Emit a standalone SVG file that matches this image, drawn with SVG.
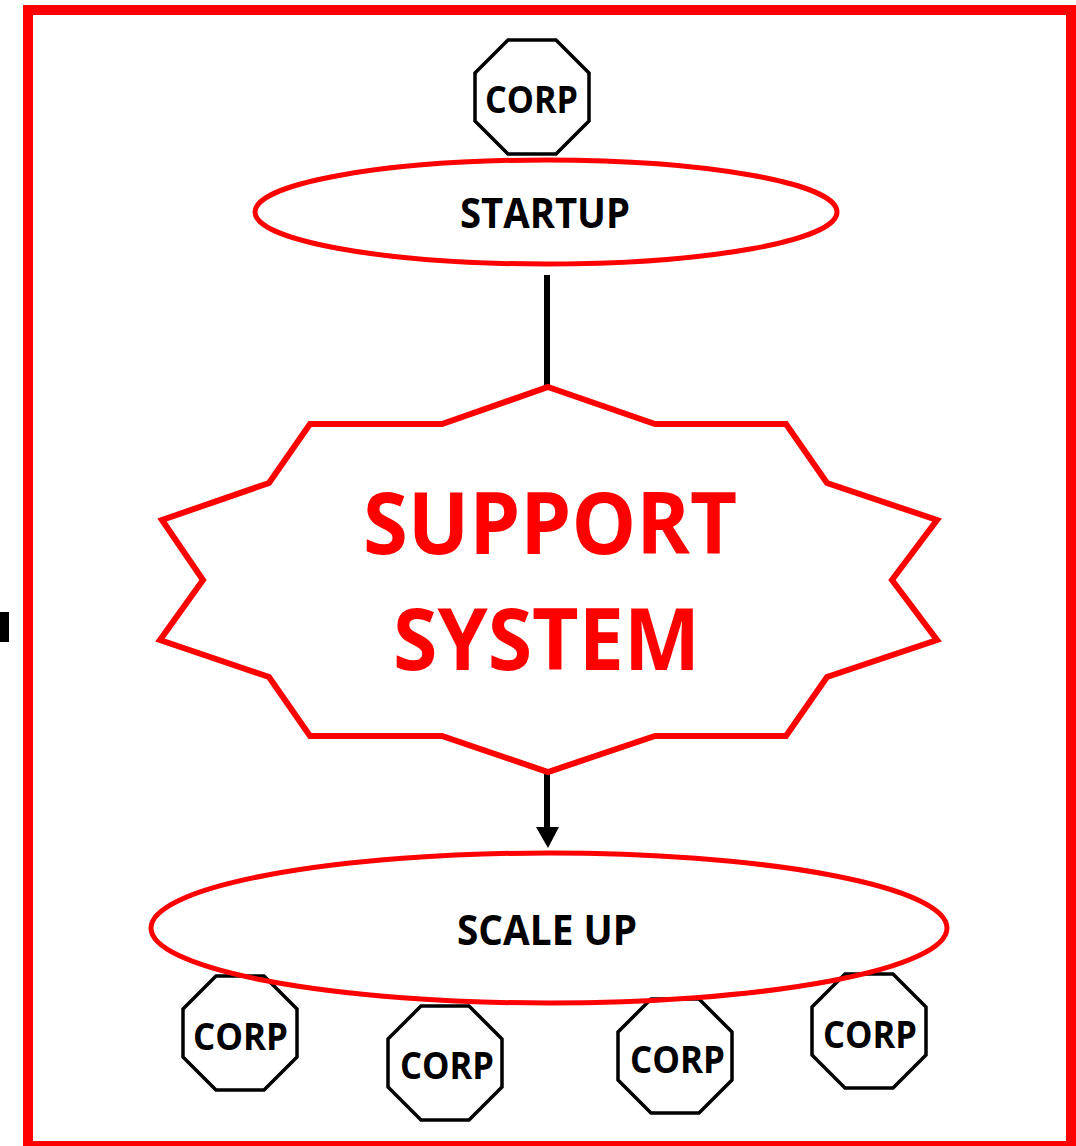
<svg xmlns="http://www.w3.org/2000/svg" width="1076" height="1146" viewBox="0 0 1076 1146">
  <style>
    .lbl { font-family: "Open Sans", "Liberation Sans", sans-serif; font-weight: bold; text-anchor: middle; }
    .blk { fill: #000; }
    .big { fill: #ff0000; font-size: 86px; }
    .mid { font-size: 42px; }
    .corp { font-size: 38px; }
    .oct { fill: none; stroke: #000; stroke-width: 3.5; stroke-linejoin: miter; }
    .redline { fill: none; stroke: #ff0000; }
    .conn { stroke: #000; stroke-width: 6; fill: none; }
  </style>
  <defs>
    <path id="octagon" d="M33,0 L81,0 L114,33 L114,81 L81,114 L33,114 L0,81 L0,33 Z"/>
    <marker id="arrowhead" markerUnits="userSpaceOnUse" markerWidth="24" markerHeight="22" refX="12" refY="21" orient="auto-start-reverse" viewBox="0 0 24 22">
      <path d="M0,0 L24,0 L12,21 Z" fill="#000"/>
    </marker>
  </defs>
  <rect x="0" y="0" width="1076" height="1146" fill="#fff"/>

  <!-- frame -->
  <rect x="28" y="10" width="1043" height="1136" class="redline" stroke-width="10"/>
  <rect x="0" y="612" width="9" height="30" fill="#000"/>

  <!-- connectors -->
  <g id="connectors">
    <line x1="547" y1="275" x2="547" y2="386" class="conn"/>
    <line x1="547" y1="774" x2="547" y2="827" class="conn"/>
    <path d="M536,827 L559,827 L548,848 Z" fill="#000"/>
  </g>

  <g id="corp-top">
    <use href="#octagon" x="475" y="40" class="oct"/>
    <text x="531.5" y="113" class="lbl blk corp" textLength="93" lengthAdjust="spacingAndGlyphs">CORP</text>
  </g>

  <g id="startup">
    <ellipse cx="546" cy="212" rx="291" ry="52" class="redline" stroke-width="5"/>
    <text x="545" y="228" class="lbl blk mid" textLength="170" lengthAdjust="spacingAndGlyphs">STARTUP</text>
  </g>

  <g id="support-system">
    <polygon points="548,387 655,424 786,424 827,483 937,520 892,580 937,640 827,677 786,736 655,736 548,772 442,736 310,736 269,677 160,640 203,580 162,520 269,483 310,424 442,424" fill="#fff" stroke="#ff0000" stroke-width="6"/>
    <text x="550" y="554" class="lbl big" textLength="374" lengthAdjust="spacingAndGlyphs">SUPPORT</text>
    <text x="546.5" y="670" class="lbl big" textLength="307" lengthAdjust="spacingAndGlyphs">SYSTEM</text>
  </g>

  <g id="corp-1">
    <use href="#octagon" x="183" y="976" class="oct"/>
    <text x="240.5" y="1050" class="lbl blk corp" textLength="95" lengthAdjust="spacingAndGlyphs">CORP</text>
  </g>
  <g id="corp-2">
    <use href="#octagon" x="388" y="1006" class="oct"/>
    <text x="447" y="1079" class="lbl blk corp" textLength="94" lengthAdjust="spacingAndGlyphs">CORP</text>
  </g>
  <g id="corp-3">
    <use href="#octagon" x="618" y="999" class="oct"/>
    <text x="677.5" y="1073" class="lbl blk corp" textLength="95" lengthAdjust="spacingAndGlyphs">CORP</text>
  </g>
  <g id="corp-4">
    <use href="#octagon" x="812" y="974" class="oct"/>
    <text x="870" y="1048" class="lbl blk corp" textLength="94" lengthAdjust="spacingAndGlyphs">CORP</text>
  </g>

  <g id="scale-up">
    <ellipse cx="549" cy="928" rx="398" ry="75" class="redline" stroke-width="5"/>
    <text x="547" y="945" class="lbl blk mid" textLength="180" lengthAdjust="spacingAndGlyphs">SCALE UP</text>
  </g>
</svg>
